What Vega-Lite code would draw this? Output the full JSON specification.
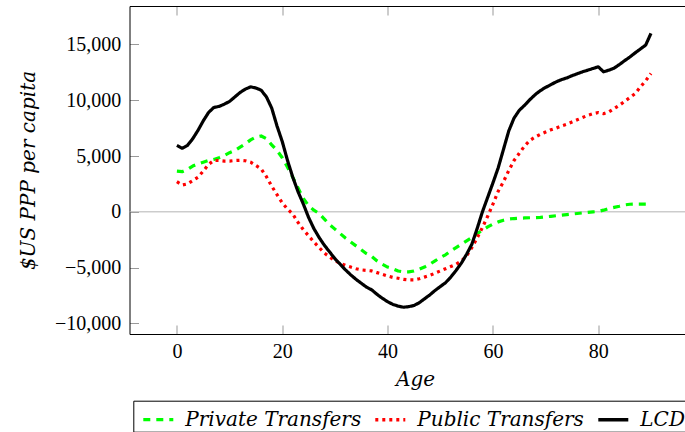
{
  "$schema": "https://vega.github.io/schema/vega-lite/v6.json",
  "autosize": {"type": "none"},
  "width": 555.5,
  "height": 328,
  "padding": {"left": 129.5, "top": 6, "right": 0, "bottom": 98},
  "background": "white",
  "config": {"view": {"stroke": null}},
  "datasets": {
    "series": [
      {"age":0,"series":"Private Transfers","value":3650},{"age":1,"series":"Private Transfers","value":3600},{"age":2,"series":"Private Transfers","value":3800},{"age":3,"series":"Private Transfers","value":4100},{"age":4,"series":"Private Transfers","value":4300},{"age":5,"series":"Private Transfers","value":4450},{"age":6,"series":"Private Transfers","value":4600},{"age":7,"series":"Private Transfers","value":4700},{"age":8,"series":"Private Transfers","value":4850},{"age":9,"series":"Private Transfers","value":5050},{"age":10,"series":"Private Transfers","value":5300},{"age":11,"series":"Private Transfers","value":5500},{"age":12,"series":"Private Transfers","value":5800},{"age":13,"series":"Private Transfers","value":6100},{"age":14,"series":"Private Transfers","value":6450},{"age":15,"series":"Private Transfers","value":6700},{"age":16,"series":"Private Transfers","value":6800},{"age":17,"series":"Private Transfers","value":6550},{"age":18,"series":"Private Transfers","value":6000},{"age":19,"series":"Private Transfers","value":5500},{"age":20,"series":"Private Transfers","value":4850},{"age":21,"series":"Private Transfers","value":4000},{"age":22,"series":"Private Transfers","value":3100},{"age":23,"series":"Private Transfers","value":2150},{"age":24,"series":"Private Transfers","value":1200},{"age":25,"series":"Private Transfers","value":550},{"age":26,"series":"Private Transfers","value":150},{"age":27,"series":"Private Transfers","value":-150},{"age":28,"series":"Private Transfers","value":-650},{"age":29,"series":"Private Transfers","value":-1150},{"age":30,"series":"Private Transfers","value":-1550},{"age":31,"series":"Private Transfers","value":-1950},{"age":32,"series":"Private Transfers","value":-2350},{"age":33,"series":"Private Transfers","value":-2700},{"age":34,"series":"Private Transfers","value":-3050},{"age":35,"series":"Private Transfers","value":-3400},{"age":36,"series":"Private Transfers","value":-3750},{"age":37,"series":"Private Transfers","value":-4000},{"age":38,"series":"Private Transfers","value":-4400},{"age":39,"series":"Private Transfers","value":-4700},{"age":40,"series":"Private Transfers","value":-4950},{"age":41,"series":"Private Transfers","value":-5100},{"age":42,"series":"Private Transfers","value":-5300},{"age":43,"series":"Private Transfers","value":-5380},{"age":44,"series":"Private Transfers","value":-5380},{"age":45,"series":"Private Transfers","value":-5300},{"age":46,"series":"Private Transfers","value":-5150},{"age":47,"series":"Private Transfers","value":-4950},{"age":48,"series":"Private Transfers","value":-4700},{"age":49,"series":"Private Transfers","value":-4400},{"age":50,"series":"Private Transfers","value":-4100},{"age":51,"series":"Private Transfers","value":-3850},{"age":52,"series":"Private Transfers","value":-3500},{"age":53,"series":"Private Transfers","value":-3200},{"age":54,"series":"Private Transfers","value":-2900},{"age":55,"series":"Private Transfers","value":-2600},{"age":56,"series":"Private Transfers","value":-2300},{"age":57,"series":"Private Transfers","value":-1950},{"age":58,"series":"Private Transfers","value":-1650},{"age":59,"series":"Private Transfers","value":-1350},{"age":60,"series":"Private Transfers","value":-1100},{"age":61,"series":"Private Transfers","value":-900},{"age":62,"series":"Private Transfers","value":-750},{"age":63,"series":"Private Transfers","value":-650},{"age":64,"series":"Private Transfers","value":-600},{"age":65,"series":"Private Transfers","value":-570},{"age":66,"series":"Private Transfers","value":-550},{"age":67,"series":"Private Transfers","value":-530},{"age":68,"series":"Private Transfers","value":-520},{"age":69,"series":"Private Transfers","value":-500},{"age":70,"series":"Private Transfers","value":-450},{"age":71,"series":"Private Transfers","value":-400},{"age":72,"series":"Private Transfers","value":-350},{"age":73,"series":"Private Transfers","value":-300},{"age":74,"series":"Private Transfers","value":-250},{"age":75,"series":"Private Transfers","value":-200},{"age":76,"series":"Private Transfers","value":-150},{"age":77,"series":"Private Transfers","value":-100},{"age":78,"series":"Private Transfers","value":-50},{"age":79,"series":"Private Transfers","value":0},{"age":80,"series":"Private Transfers","value":30},{"age":81,"series":"Private Transfers","value":150},{"age":82,"series":"Private Transfers","value":300},{"age":83,"series":"Private Transfers","value":400},{"age":84,"series":"Private Transfers","value":500},{"age":85,"series":"Private Transfers","value":620},{"age":86,"series":"Private Transfers","value":680},{"age":87,"series":"Private Transfers","value":700},{"age":88,"series":"Private Transfers","value":700},{"age":89,"series":"Private Transfers","value":700},{"age":90,"series":"Private Transfers","value":700},
      {"age":0,"series":"Public Transfers","value":2700},{"age":1,"series":"Public Transfers","value":2400},{"age":2,"series":"Public Transfers","value":2500},{"age":3,"series":"Public Transfers","value":2800},{"age":4,"series":"Public Transfers","value":3100},{"age":5,"series":"Public Transfers","value":3650},{"age":6,"series":"Public Transfers","value":4250},{"age":7,"series":"Public Transfers","value":4600},{"age":8,"series":"Public Transfers","value":4600},{"age":9,"series":"Public Transfers","value":4550},{"age":10,"series":"Public Transfers","value":4550},{"age":11,"series":"Public Transfers","value":4600},{"age":12,"series":"Public Transfers","value":4620},{"age":13,"series":"Public Transfers","value":4580},{"age":14,"series":"Public Transfers","value":4450},{"age":15,"series":"Public Transfers","value":4150},{"age":16,"series":"Public Transfers","value":3850},{"age":17,"series":"Public Transfers","value":3150},{"age":18,"series":"Public Transfers","value":2300},{"age":19,"series":"Public Transfers","value":1550},{"age":20,"series":"Public Transfers","value":800},{"age":21,"series":"Public Transfers","value":250},{"age":22,"series":"Public Transfers","value":-200},{"age":23,"series":"Public Transfers","value":-950},{"age":24,"series":"Public Transfers","value":-1600},{"age":25,"series":"Public Transfers","value":-2150},{"age":26,"series":"Public Transfers","value":-2700},{"age":27,"series":"Public Transfers","value":-3200},{"age":28,"series":"Public Transfers","value":-3700},{"age":29,"series":"Public Transfers","value":-4050},{"age":30,"series":"Public Transfers","value":-4400},{"age":31,"series":"Public Transfers","value":-4600},{"age":32,"series":"Public Transfers","value":-4800},{"age":33,"series":"Public Transfers","value":-4950},{"age":34,"series":"Public Transfers","value":-5100},{"age":35,"series":"Public Transfers","value":-5200},{"age":36,"series":"Public Transfers","value":-5250},{"age":37,"series":"Public Transfers","value":-5300},{"age":38,"series":"Public Transfers","value":-5450},{"age":39,"series":"Public Transfers","value":-5600},{"age":40,"series":"Public Transfers","value":-5750},{"age":41,"series":"Public Transfers","value":-5880},{"age":42,"series":"Public Transfers","value":-5950},{"age":43,"series":"Public Transfers","value":-6050},{"age":44,"series":"Public Transfers","value":-6100},{"age":45,"series":"Public Transfers","value":-6100},{"age":46,"series":"Public Transfers","value":-6000},{"age":47,"series":"Public Transfers","value":-5850},{"age":48,"series":"Public Transfers","value":-5700},{"age":49,"series":"Public Transfers","value":-5500},{"age":50,"series":"Public Transfers","value":-5300},{"age":51,"series":"Public Transfers","value":-5100},{"age":52,"series":"Public Transfers","value":-4900},{"age":53,"series":"Public Transfers","value":-4700},{"age":54,"series":"Public Transfers","value":-4400},{"age":55,"series":"Public Transfers","value":-3950},{"age":56,"series":"Public Transfers","value":-3200},{"age":57,"series":"Public Transfers","value":-2350},{"age":58,"series":"Public Transfers","value":-1400},{"age":59,"series":"Public Transfers","value":-400},{"age":60,"series":"Public Transfers","value":700},{"age":61,"series":"Public Transfers","value":1850},{"age":62,"series":"Public Transfers","value":2700},{"age":63,"series":"Public Transfers","value":3700},{"age":64,"series":"Public Transfers","value":4600},{"age":65,"series":"Public Transfers","value":5250},{"age":66,"series":"Public Transfers","value":5900},{"age":67,"series":"Public Transfers","value":6400},{"age":68,"series":"Public Transfers","value":6700},{"age":69,"series":"Public Transfers","value":6950},{"age":70,"series":"Public Transfers","value":7150},{"age":71,"series":"Public Transfers","value":7350},{"age":72,"series":"Public Transfers","value":7500},{"age":73,"series":"Public Transfers","value":7700},{"age":74,"series":"Public Transfers","value":7850},{"age":75,"series":"Public Transfers","value":8050},{"age":76,"series":"Public Transfers","value":8250},{"age":77,"series":"Public Transfers","value":8450},{"age":78,"series":"Public Transfers","value":8650},{"age":79,"series":"Public Transfers","value":8800},{"age":80,"series":"Public Transfers","value":8900},{"age":81,"series":"Public Transfers","value":8800},{"age":82,"series":"Public Transfers","value":8950},{"age":83,"series":"Public Transfers","value":9250},{"age":84,"series":"Public Transfers","value":9550},{"age":85,"series":"Public Transfers","value":9900},{"age":86,"series":"Public Transfers","value":10250},{"age":87,"series":"Public Transfers","value":10600},{"age":88,"series":"Public Transfers","value":11200},{"age":89,"series":"Public Transfers","value":11750},{"age":90,"series":"Public Transfers","value":12400},
      {"age":0,"series":"LCD","value":5950},{"age":1,"series":"LCD","value":5700},{"age":2,"series":"LCD","value":5950},{"age":3,"series":"LCD","value":6550},{"age":4,"series":"LCD","value":7300},{"age":5,"series":"LCD","value":8150},{"age":6,"series":"LCD","value":8900},{"age":7,"series":"LCD","value":9350},{"age":8,"series":"LCD","value":9450},{"age":9,"series":"LCD","value":9650},{"age":10,"series":"LCD","value":9900},{"age":11,"series":"LCD","value":10300},{"age":12,"series":"LCD","value":10700},{"age":13,"series":"LCD","value":11000},{"age":14,"series":"LCD","value":11200},{"age":15,"series":"LCD","value":11100},{"age":16,"series":"LCD","value":10900},{"age":17,"series":"LCD","value":10300},{"age":18,"series":"LCD","value":9300},{"age":19,"series":"LCD","value":7700},{"age":20,"series":"LCD","value":6300},{"age":21,"series":"LCD","value":4600},{"age":22,"series":"LCD","value":3100},{"age":23,"series":"LCD","value":1800},{"age":24,"series":"LCD","value":700},{"age":25,"series":"LCD","value":-500},{"age":26,"series":"LCD","value":-1500},{"age":27,"series":"LCD","value":-2300},{"age":28,"series":"LCD","value":-3000},{"age":29,"series":"LCD","value":-3600},{"age":30,"series":"LCD","value":-4200},{"age":31,"series":"LCD","value":-4700},{"age":32,"series":"LCD","value":-5200},{"age":33,"series":"LCD","value":-5650},{"age":34,"series":"LCD","value":-6050},{"age":35,"series":"LCD","value":-6400},{"age":36,"series":"LCD","value":-6750},{"age":37,"series":"LCD","value":-7000},{"age":38,"series":"LCD","value":-7400},{"age":39,"series":"LCD","value":-7750},{"age":40,"series":"LCD","value":-8050},{"age":41,"series":"LCD","value":-8300},{"age":42,"series":"LCD","value":-8450},{"age":43,"series":"LCD","value":-8550},{"age":44,"series":"LCD","value":-8500},{"age":45,"series":"LCD","value":-8400},{"age":46,"series":"LCD","value":-8150},{"age":47,"series":"LCD","value":-7800},{"age":48,"series":"LCD","value":-7450},{"age":49,"series":"LCD","value":-7050},{"age":50,"series":"LCD","value":-6700},{"age":51,"series":"LCD","value":-6350},{"age":52,"series":"LCD","value":-5850},{"age":53,"series":"LCD","value":-5250},{"age":54,"series":"LCD","value":-4600},{"age":55,"series":"LCD","value":-3800},{"age":56,"series":"LCD","value":-2900},{"age":57,"series":"LCD","value":-1500},{"age":58,"series":"LCD","value":0},{"age":59,"series":"LCD","value":1300},{"age":60,"series":"LCD","value":2600},{"age":61,"series":"LCD","value":3950},{"age":62,"series":"LCD","value":5600},{"age":63,"series":"LCD","value":7250},{"age":64,"series":"LCD","value":8400},{"age":65,"series":"LCD","value":9100},{"age":66,"series":"LCD","value":9550},{"age":67,"series":"LCD","value":10050},{"age":68,"series":"LCD","value":10500},{"age":69,"series":"LCD","value":10870},{"age":70,"series":"LCD","value":11150},{"age":71,"series":"LCD","value":11400},{"age":72,"series":"LCD","value":11650},{"age":73,"series":"LCD","value":11850},{"age":74,"series":"LCD","value":12000},{"age":75,"series":"LCD","value":12200},{"age":76,"series":"LCD","value":12380},{"age":77,"series":"LCD","value":12550},{"age":78,"series":"LCD","value":12700},{"age":79,"series":"LCD","value":12850},{"age":80,"series":"LCD","value":13000},{"age":81,"series":"LCD","value":12550},{"age":82,"series":"LCD","value":12700},{"age":83,"series":"LCD","value":12880},{"age":84,"series":"LCD","value":13200},{"age":85,"series":"LCD","value":13550},{"age":86,"series":"LCD","value":13880},{"age":87,"series":"LCD","value":14250},{"age":88,"series":"LCD","value":14600},{"age":89,"series":"LCD","value":14950},{"age":90,"series":"LCD","value":16000}
    ],
    "zero": [{"value": 0}]
  },
  "resolve": {"axis": {"x": "independent"}},
  "layer": [
    {
      "data": {"name": "zero"},
      "mark": {"type": "rule", "color": "#b3b3b3", "strokeWidth": 1},
      "encoding": {
        "y": {
          "field": "value", "type": "quantitative",
          "axis": {
            "values": [-10000, -5000, 0, 5000, 10000, 15000], "format": ",d", "grid": false,
            "domainColor": "black", "domainWidth": 1,
            "tickColor": "#999999", "tickSize": -9, "tickWidth": 1,
            "labelFont": "Liberation Serif", "labelFontSize": 20, "labelColor": "black", "labelPadding": 17.8,
            "title": "$US PPP per capita", "titleFont": "DejaVu Serif", "titleFontStyle": "italic", "titleFontWeight": "normal",
            "titleFontSize": 20, "titleColor": "black", "titleAngle": -90, "titleX": -101.5, "titleY": 164,
            "titleAlign": "center", "titleBaseline": "middle"
          }
        }
      }
    },
    {
      "data": {"name": "series"},
      "mark": {"type": "line", "strokeWidth": 3.2, "strokeJoin": "round", "strokeCap": "butt", "clip": true},
      "encoding": {
        "x": {
          "field": "age", "type": "quantitative",
          "scale": {"domain": [-9, 96.46], "nice": false, "zero": false},
          "axis": {
            "orient": "bottom", "values": [0, 20, 40, 60, 80], "format": "d", "grid": false,
            "domainColor": "black", "domainWidth": 1,
            "tickColor": "#999999", "tickSize": -9, "tickWidth": 1,
            "labelFont": "Liberation Serif", "labelFontSize": 20, "labelColor": "black", "labelPadding": 16,
            "title": "Age", "titleFont": "DejaVu Serif", "titleFontStyle": "italic", "titleFontWeight": "normal",
            "titleFontSize": 20, "titleColor": "black", "titleX": 285.5, "titleY": 45, "titleBaseline": "middle", "titleAlign": "center"
          }
        },
        "y": {
          "field": "value", "type": "quantitative",
          "scale": {"domain": [-10950, 18450], "nice": false, "zero": false},
          "axis": {
            "values": [-10000, -5000, 0, 5000, 10000, 15000], "format": ",d", "grid": false,
            "domainColor": "black", "domainWidth": 1,
            "tickColor": "#999999", "tickSize": -9, "tickWidth": 1,
            "labelFont": "Liberation Serif", "labelFontSize": 20, "labelColor": "black", "labelPadding": 17.8,
            "title": "$US PPP per capita", "titleFont": "DejaVu Serif", "titleFontStyle": "italic", "titleFontWeight": "normal",
            "titleFontSize": 20, "titleColor": "black", "titleAngle": -90, "titleX": -101.5, "titleY": 164,
            "titleAlign": "center", "titleBaseline": "middle"
          }
        },
        "color": {
          "field": "series", "type": "nominal",
          "scale": {"domain": ["Private Transfers", "Public Transfers", "LCD"], "range": ["#00ff00", "#ff0000", "#000000"]},
          "legend": {
            "orient": "none", "legendX": 3.8, "legendY": 394.7, "direction": "horizontal", "title": null,
            "strokeColor": "black", "fillColor": "white", "padding": 2, "symbolOffset": 6,
            "symbolType": "stroke", "symbolSize": 900, "symbolStrokeWidth": 3,
            "labelFont": "DejaVu Serif", "labelFontStyle": "italic", "labelFontSize": 20, "labelColor": "black",
            "labelOffset": 10, "columnPadding": 6, "labelLimit": 0
          }
        },
        "strokeDash": {
          "field": "series", "type": "nominal",
          "scale": {"domain": ["Private Transfers", "Public Transfers", "LCD"], "range": [[7, 6], [3, 4], [1, 0]]}
        },
        "strokeWidth": {
          "field": "series", "type": "nominal",
          "scale": {"domain": ["Private Transfers", "Public Transfers", "LCD"], "range": [3.2, 3.6, 3]},
          "legend": null
        }
      }
    },
    {
      "data": {"name": "zero"},
      "mark": {"type": "rule", "opacity": 0},
      "encoding": {
        "x": {
          "datum": 0, "type": "quantitative",
          "axis": {
            "orient": "top", "values": [0, 20, 40, 60, 80], "grid": false, "labels": false, "title": null,
            "domainColor": "black", "domainWidth": 1,
            "tickColor": "#999999", "tickSize": -9, "tickWidth": 1
          }
        }
      }
    }
  ]
}
